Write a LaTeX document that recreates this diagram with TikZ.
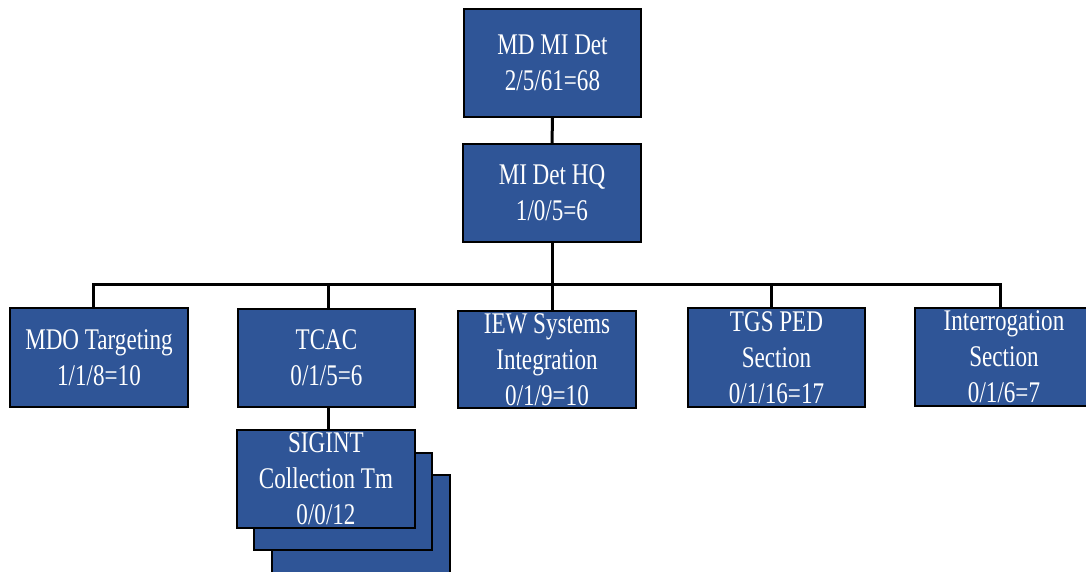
\documentclass[tikz,border=0pt]{standalone}
\usepackage{fontspec}
\setmainfont{Liberation Serif}[FakeStretch=0.77]
\definecolor{unitblue}{RGB}{47,85,151}
\tikzset{
  unit/.style={draw=black, line width=1.4pt, fill=unitblue, text=white,
    align=center, inner sep=0pt, font=\fontsize{30}{36}\selectfont,
    minimum width=178pt, minimum height=98pt},
  conn/.style={draw=black, line width=3pt}
}
\begin{document}
\begin{tikzpicture}[x=1pt,y=-1pt]
\useasboundingbox (0,0) rectangle (1086,571);
\fill[white] (0,0) rectangle (1086,571);

% headquarters chain
\node[unit, minimum width=177pt, minimum height=108pt] (top) at (552.5,63) {MD MI Det\\2/5/61=68};
\node[unit] (hq) at (552,193) {MI Det HQ\\1/0/5=6};

% sections
\node[unit, minimum height=99pt] (mdo) at (99,357.5) {MDO Targeting\\1/1/8=10};
\node[unit, minimum width=177pt] (tcac) at (326.5,358) {TCAC\\0/1/5=6};
\node[unit, minimum height=97pt] (iew) at (547,359.5) {IEW Systems\\Integration\\0/1/9=10};
\node[unit, minimum width=177pt, minimum height=99pt] (tgs) at (776.5,357.5) {TGS PED\\Section\\0/1/16=17};
\node[unit] (intr) at (1004,357) {Interrogation\\Section\\0/1/6=7};

% bus line and drop points
\coordinate (dM) at (93,284);
\coordinate (dT) at (328,284);
\coordinate (dI) at (552,284);
\coordinate (dG) at (771,284);
\coordinate (dR) at (1000,284);

\draw[conn] (top.south) -- (hq.north);
\draw[conn] (hq.south) -- (hq.south |- dI);
\draw[conn, line cap=rect] (dM) -- (dR);
\draw[conn] (dM) -- (dM |- mdo.north);
\draw[conn] (dT) -- (dT |- tcac.north);
\draw[conn] (dI) -- (dI |- iew.north);
\draw[conn] (dG) -- (dG |- tgs.north);
\draw[conn] (dR) -- (dR |- intr.north);

% stacked collection teams
\node[unit] (sig3) at (361,524) {};
\node[unit, minimum height=97pt] (sig2) at (343,501.5) {};
\node[unit, minimum width=178pt] (sig1) at (326,479) {SIGINT\\Collection Tm\\0/0/12};
\draw[conn] (tcac.south -| dT) -- (sig1.north -| dT);
\end{tikzpicture}
\end{document}
